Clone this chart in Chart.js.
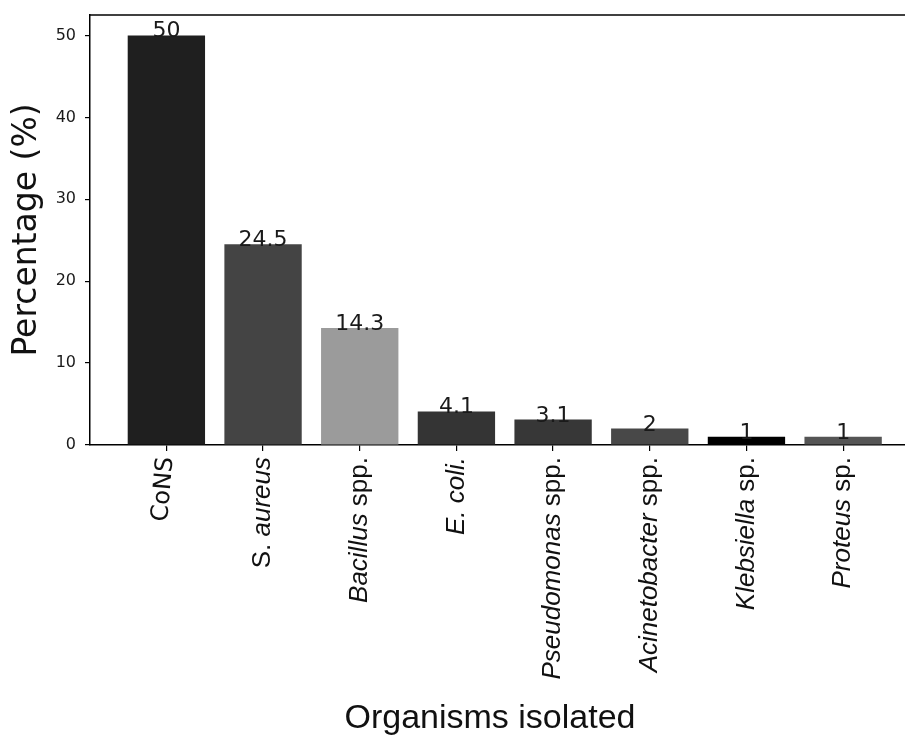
<!DOCTYPE html>
<html>
<head>
<meta charset="utf-8">
<script src="https://cdn.jsdelivr.net/npm/chart.js@4"></script>
<style>
html,body{margin:0;padding:0;background:#fff;overflow:hidden;}
#wrap{width:905px;height:738px;position:relative;}
</style>
</head>
<body>
<div id="wrap"><canvas id="c" width="905" height="738"></canvas></div>
<script>
const categories = ['CoNS', 'S. aureus', 'Bacillus spp.', 'E. coli.', 'Pseudomonas spp.', 'Acinetobacter spp.', 'Klebsiella sp.', 'Proteus sp.'];
// label segments: [text, italic]
const labelParts = [
  [['CoNS', false]],
  [['S. ', false], ['aureus', true]],
  [['Bacillus', true], [' spp.', false]],
  [['E. coli.', true]],
  [['Pseudomonas', true], [' spp.', false]],
  [['Acinetobacter', true], [' spp.', false]],
  [['Klebsiella', true], [' sp.', false]],
  [['Proteus', true], [' sp.', false]]
];
const percentages = [50, 24.5, 14.3, 4.1, 3.1, 2, 1, 1];
const valueLabels = ['50', '24.5', '14.3', '4.1', '3.1', '2', '1', '1'];
const barColors = ['#1f1f1f', '#444444', '#9b9b9b', '#343434', '#373737', '#484848', '#000000', '#555555'];
const yTicks = [0, 10, 20, 30, 40, 50];

const labelPlugin = {
  id: 'customText',
  afterDatasetsDraw(chart) {
    const ctx = chart.ctx;
    const xs = chart.scales.x;
    const area = chart.chartArea;
    const meta = chart.getDatasetMeta(0);
    ctx.save();
    // top spine
    ctx.strokeStyle = '#000';
    ctx.lineWidth = 1.5;
    ctx.beginPath();
    ctx.moveTo(area.left, area.top);
    ctx.lineTo(chart.width, area.top);
    ctx.stroke();
    // value labels
    ctx.fillStyle = '#1a1a1a';
    ctx.font = '22px "DejaVu Sans"';
    ctx.textAlign = 'center';
    ctx.textBaseline = 'alphabetic';
    meta.data.forEach((bar, i) => {
      ctx.fillText(valueLabels[i], bar.x, bar.y + 2);
    });
    // x category labels
    ctx.fillStyle = '#111';
    ctx.textBaseline = 'middle';
    ctx.textAlign = 'left';
    labelParts.forEach((parts, i) => {
      const x = xs.getPixelForValue(i);
      const isCons = i === 0;
      const fontFor = (it) => isCons ? '24px "DejaVu Sans"' : (it ? 'italic ' : '') + '26px "Liberation Sans"';
      let total = 0;
      parts.forEach(([t, it]) => { ctx.font = fontFor(it); total += ctx.measureText(t).width; });
      ctx.save();
      ctx.translate(x, 457);
      ctx.rotate(isCons ? -85 * Math.PI / 180 : -Math.PI / 2);
      let pos = -total;
      parts.forEach(([t, it]) => {
        ctx.font = fontFor(it);
        ctx.fillText(t, pos, 0);
        pos += ctx.measureText(t).width;
      });
      ctx.restore();
    });
    // axis titles
    ctx.fillStyle = '#111';
    ctx.font = '34px "Liberation Sans"';
    ctx.textAlign = 'center';
    ctx.textBaseline = 'alphabetic';
    ctx.fillText('Organisms isolated', 490, 728);
    ctx.save();
    ctx.translate(27, 230);
    ctx.rotate(-Math.PI / 2);
    ctx.font = '33px "DejaVu Sans"';
    ctx.textBaseline = 'middle';
    ctx.fillText('Percentage (%)', 0, 0);
    ctx.restore();
    ctx.restore();
  }
};

new Chart(document.getElementById('c'), {
  type: 'bar',
  data: {
    datasets: [{
      data: percentages.map((v, i) => ({ x: i, y: v })),
      backgroundColor: barColors,
      borderWidth: 0,
      barPercentage: 0.8,
      categoryPercentage: 1.0
    }]
  },
  options: {
    responsive: false,
    animation: false,
    devicePixelRatio: 1,
    layout: { padding: { top: 15, right: 0, left: 0, bottom: 0 } },
    plugins: { legend: { display: false }, tooltip: { enabled: false } },
    scales: {
      x: {
        type: 'linear',
        offset: false,
        min: -0.79,
        max: 7.64,
        afterBuildTicks: (s) => { s.ticks = categories.map((_, i) => ({ value: i })); },
        afterFit: (s) => { s.height = 738 - 445; s.paddingLeft = 0; s.paddingRight = 0; },
        ticks: { callback: () => '', maxRotation: 0 },
        grid: { offset: false, drawOnChartArea: false, drawTicks: true, tickLength: 6, color: '#000', lineWidth: 1.2 },
        border: { display: true, color: '#000', width: 1.5 }
      },
      y: {
        min: 0,
        max: 52.5,
        afterBuildTicks: (s) => { s.ticks = yTicks.map(v => ({ value: v })); },
        afterFit: (s) => { s.width = 90; s.paddingTop = 0; s.paddingBottom = 0; },
        ticks: { color: '#1a1a1a', font: { family: 'DejaVu Sans', size: 16 }, padding: 9 },
        grid: { drawOnChartArea: false, drawTicks: true, tickLength: 5, color: '#000', lineWidth: 1.2 },
        border: { display: true, color: '#000', width: 1.5 }
      }
    }
  },
  plugins: [labelPlugin]
});
</script>
</body>
</html>
